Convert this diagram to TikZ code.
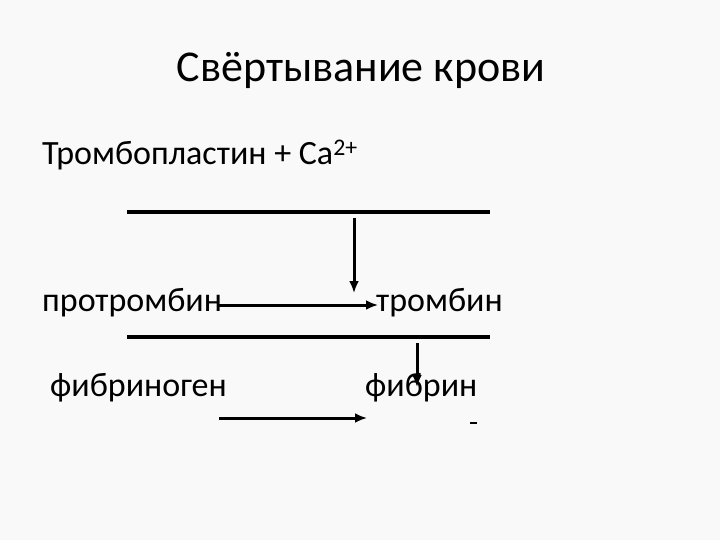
\documentclass[tikz,border=0pt]{standalone}
\usepackage{fontspec}
\setmainfont{Carlito}
\usetikzlibrary{arrows.meta}
\begin{document}
\begin{tikzpicture}[x=1pt,y=-1pt,
  txt/.style={inner sep=0pt,font=\fontsize{34}{38}\selectfont},
  ln/.style={line width=3.5pt},
  arr/.style={line width=3pt,-{Latex[length=12pt,width=10pt]}}]
\fill[white!95!gray] (0,0) rectangle (720,540);
\useasboundingbox (0,0) rectangle (720,540);
\node[inner sep=0pt,font=\fontsize{44}{48}\selectfont] (title) at (361,70) {Свёртывание крови};
\node[txt,anchor=west] (tp) at (42,155) {Тромбопластин + Ca\textsuperscript{2+}};
\coordinate (l1a) at (127,212); \coordinate (l1b) at (490,212);
\draw[ln] (l1a) -- (l1b);
\coordinate (v1a) at (354,218); \coordinate (v1b) at (354,293);
\draw[arr] (v1a) -- (v1b);
\node[txt,anchor=west] (pt) at (42,303) {протромбин};
\node[txt,anchor=west] (t) at (376,303) {тромбин};
\coordinate (h1a) at (219,305); \coordinate (h1b) at (378,305);
\draw[arr] (h1a) -- (h1b);
\coordinate (l2a) at (127,337); \coordinate (l2b) at (490,337);
\draw[ln] (l2a) -- (l2b);
\coordinate (v2a) at (417,343); \coordinate (v2b) at (417,387);
\draw[arr] (v2a) -- (v2b);
\node[txt,anchor=west] (fg) at (50,388) {фибриноген};
\node[txt,anchor=west] (f) at (365,388) {фибрин};
\coordinate (h2a) at (219,418); \coordinate (h2b) at (367,418);
\draw[arr] (h2a) -- (h2b);
\coordinate (d1) at (470,423); \coordinate (d2) at (477,423);
\draw[line width=2.5pt] (d1) -- (d2);
\end{tikzpicture}
\end{document}
